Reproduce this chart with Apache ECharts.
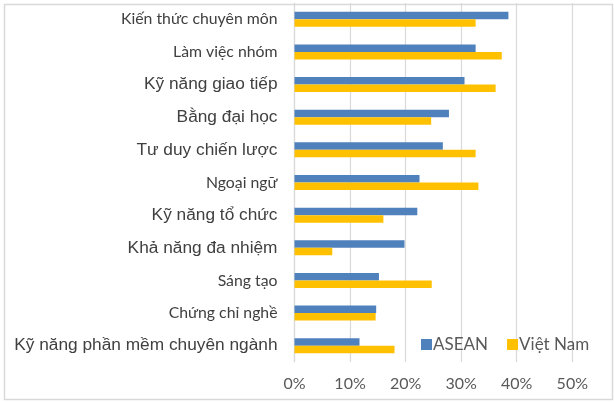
<!DOCTYPE html>
<html>
<head>
<meta charset="utf-8">
<script src="https://cdn.jsdelivr.net/npm/echarts@6/dist/echarts.min.js"></script>
<style>html,body{margin:0;padding:0;background:#fff;}#c{width:614px;height:402px;}</style>
</head>
<body>
<div id="c"></div>
<script>
const categories = [
  "Kiến thức chuyên môn",
  "Làm việc nhóm",
  "Kỹ năng giao tiếp",
  "Bằng đại học",
  "Tư duy chiến lược",
  "Ngoại ngữ",
  "Kỹ năng tổ chức",
  "Khả năng đa nhiệm",
  "Sáng tạo",
  "Chứng chỉ nghề",
  "Kỹ năng phần mềm chuyên ngành"
];
const aseanValues = [38.5, 32.6, 30.6, 27.8, 26.7, 22.5, 22.1, 19.8, 15.2, 14.7, 11.7];
const vietnamValues = [32.6, 37.3, 36.2, 24.6, 32.6, 33.1, 16.0, 6.8, 24.7, 14.6, 18.0];
const seriesNames = ["ASEAN", "Việt Nam"];

// label styling: which category labels use the larger sans style
const largeLabelIdx = new Set([2, 3, 4, 6, 7, 10]);

const chart = echarts.init(document.getElementById('c'), null, {renderer: 'canvas'});
chart.setOption({
  animation: false,
  backgroundColor: '#fff',
  graphic: [{
    type: 'rect', left: 2, top: 2, silent: true,
    shape: {width: 608, height: 395},
    style: {fill: 'none', stroke: '#d9d9d9', lineWidth: 1.5}
  }],
  grid: {left: 294.5, right: 41.7, top: 3, bottom: 40, containLabel: false},
  legend: {
    data: seriesNames,
    left: 421, top: 336, padding: 0,
    icon: 'rect', itemWidth: 11, itemHeight: 11, itemGap: 19,
    textStyle: {fontFamily: 'Lato', fontSize: 17, color: '#595959', padding: [0, 0, 0, -4]}
  },
  xAxis: {
    type: 'value', min: 0, max: 50, interval: 10,
    axisLabel: {formatter: '{value}%', fontFamily: 'Lato', fontSize: 16, color: '#595959', margin: 14},
    axisLine: {show: false}, axisTick: {show: false},
    splitLine: {lineStyle: {color: '#d9d9d9', width: 1.2}}
  },
  yAxis: {
    type: 'category', data: categories, inverse: true,
    axisLine: {show: true, lineStyle: {color: '#d9d9d9', width: 1.2}},
    axisTick: {show: false},
    axisLabel: {
      margin: 17,
      formatter: function (v, i) { return '{' + (largeLabelIdx.has(i) ? 'a' : 'b') + '|' + v + '}'; },
      rich: {
        a: {fontFamily: 'Liberation Sans', fontSize: 17.3, color: '#404040'},
        b: {fontFamily: 'Lato', fontSize: 15.8, color: '#404040'}
      }
    }
  },
  series: [
    {name: seriesNames[0], type: 'bar', data: aseanValues, itemStyle: {color: '#4F81BD'}, barGap: '0%', barCategoryGap: '54%'},
    {name: seriesNames[1], type: 'bar', data: vietnamValues, itemStyle: {color: '#FFC000'}, barGap: '0%', barCategoryGap: '54%'}
  ]
});
</script>
</body>
</html>
